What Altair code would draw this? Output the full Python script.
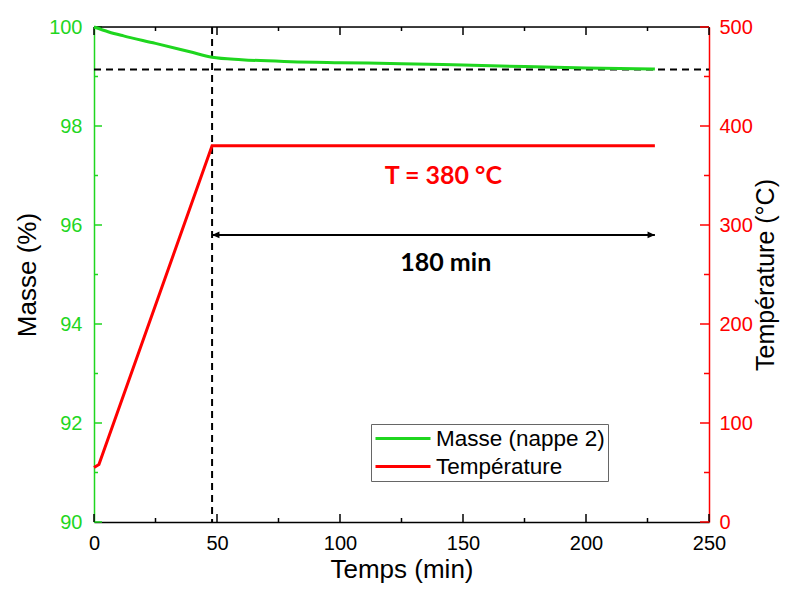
import altair as alt
import pandas as pd

# ---- data ----
time_mass = [0, 6, 12, 25, 39, 48, 60, 80, 100, 125, 150, 175, 200, 228]
mass = [100.0, 99.90, 99.82, 99.67, 99.50, 99.39, 99.34, 99.30, 99.28, 99.26, 99.23, 99.20, 99.17, 99.15]
time_temp = [0, 2, 48, 228]
temp = [55, 58, 380, 380]
series = ["Masse (nappe 2)", "Température"]

x_major = [0, 50, 100, 150, 200, 250]
x_minor = [25, 75, 125, 175, 225]
mass_major = [90, 92, 94, 96, 98, 100]
mass_minor = [91, 93, 95, 97, 99]
temp_major = [0, 100, 200, 300, 400, 500]
temp_minor = [50, 150, 250, 350, 450]

plateau_start = [48]
plateau_end = [228]
mass_final = [99.14]
arrow_temp = [290]
label_T = ["T = 380 °C"]
label_T_time = [142]
label_T_temp = [349]
label_d = ["180 min"]
label_d_time = [143]
label_d_temp = [262]

GREEN = "#1fd61f"
RED = "#ff0000"
W, H = 615, 495
FONT = "Liberation Sans"

xs = alt.Scale(domain=[0, 250], nice=False)
ms = alt.Scale(domain=[90, 100], nice=False)
ts = alt.Scale(domain=[0, 500], nice=False)
cs = alt.Scale(domain=series, range=[GREEN, RED])

legend = alt.Legend(
    title=None, orient="none", legendX=277, legendY=397, direction="vertical",
    symbolType="stroke", symbolSize=3025, symbolStrokeWidth=3, clipHeight=23,
    labelFontSize=22.5, labelFont=FONT, labelColor="black", labelOffset=4, labelLimit=400,
    strokeColor="#666666", fillColor="white", padding=3, rowPadding=5,
)

x_axis = alt.Axis(
    values=x_major, ticks=False, tickSize=0, labelFontSize=20, labelFont=FONT,
    labelColor="black", labelFlush=False, title="Temps (min)", titleFontSize=26,
    titleFont=FONT, titleFontWeight="normal", titleColor="black", domainColor="black",
    domainWidth=1.5, grid=False, labelPadding=11, titlePadding=3,
)

mass_axis = alt.Axis(
    values=mass_major, ticks=False, tickSize=0, labelFontSize=20, labelFont=FONT,
    labelColor=GREEN, domainColor=GREEN, domainWidth=1.5, grid=False,
    title="Masse (%)", titleFontSize=26, titleFont=FONT, titleFontWeight="normal",
    titleColor="black", labelPadding=12, titlePadding=8, orient="left")

temp_axis = alt.Axis(
    values=temp_major, ticks=False, tickSize=0, labelFontSize=20, labelFont=FONT,
    labelColor=RED, domainColor=RED, domainWidth=1.5, grid=False,
    title="Température (°C)", titleFontSize=25, titleFont=FONT,
    titleFontWeight="normal", titleColor="black", labelPadding=10,
    titlePadding=1, titleAngle=270, titleBaseline="top", orient="right")

df_mass = pd.DataFrame({"t": time_mass, "v": mass, "s": series[0]})
df_temp = pd.DataFrame({"t": time_temp, "v": temp, "s": series[1]})

mass_line = alt.Chart(df_mass).mark_line(strokeWidth=3, interpolate="monotone").encode(
    x=alt.X("t:Q", scale=xs, axis=x_axis),
    y=alt.Y("v:Q", scale=ms, axis=mass_axis),
    color=alt.Color("s:N", scale=cs, legend=legend),
)

hline = alt.Chart(pd.DataFrame({"m": mass_final})).mark_rule(
    color="black", strokeWidth=2, strokeDash=[7, 5]).encode(
    y=alt.Y("m:Q", scale=ms, axis=mass_axis), x=alt.value(0), x2=alt.value(W))

vline = alt.Chart(pd.DataFrame({"t": plateau_start})).mark_rule(
    color="black", strokeWidth=2, strokeDash=[7, 5]).encode(
    x=alt.X("t:Q", scale=xs, axis=x_axis), y=alt.value(0), y2=alt.value(H))

mass_tick_major = alt.Chart(pd.DataFrame({"m": mass_major})).mark_rule(
    color=GREEN, strokeWidth=1.5).encode(
    y=alt.Y("m:Q", scale=ms, axis=mass_axis), x=alt.value(0), x2=alt.value(8))
mass_tick_minor = alt.Chart(pd.DataFrame({"m": mass_minor})).mark_rule(
    color=GREEN, strokeWidth=1.5).encode(
    y=alt.Y("m:Q", scale=ms, axis=mass_axis), x=alt.value(0), x2=alt.value(4))

xt_major = pd.DataFrame({"t": x_major})
xt_minor = pd.DataFrame({"t": x_minor})
bot_major = alt.Chart(xt_major).mark_rule(color="black", strokeWidth=1.5).encode(
    x=alt.X("t:Q", scale=xs, axis=x_axis), y=alt.value(H), y2=alt.value(H - 8))
bot_minor = alt.Chart(xt_minor).mark_rule(color="black", strokeWidth=1.5).encode(
    x=alt.X("t:Q", scale=xs, axis=x_axis), y=alt.value(H), y2=alt.value(H - 4))
top_major = alt.Chart(xt_major).mark_rule(color="black", strokeWidth=1.5).encode(
    x=alt.X("t:Q", scale=xs, axis=x_axis), y=alt.value(0), y2=alt.value(8))
top_minor = alt.Chart(xt_minor).mark_rule(color="black", strokeWidth=1.5).encode(
    x=alt.X("t:Q", scale=xs, axis=x_axis), y=alt.value(0), y2=alt.value(4))
top_line = alt.Chart(pd.DataFrame({"a": [0]})).mark_rule(color="black", strokeWidth=1.5).encode(
    x=alt.value(0), x2=alt.value(W), y=alt.value(0))

mass_group = alt.layer(
    hline, vline, mass_tick_major, mass_tick_minor,
    bot_major, bot_minor, top_major, top_minor, top_line, mass_line,
)

temp_line = alt.Chart(df_temp).mark_line(strokeWidth=3).encode(
    x=alt.X("t:Q", scale=xs, axis=x_axis),
    y=alt.Y("v:Q", scale=ts, axis=temp_axis),
    color=alt.Color("s:N", scale=cs, legend=legend),
)

temp_tick_major = alt.Chart(pd.DataFrame({"T": temp_major})).mark_rule(
    color=RED, strokeWidth=1.5).encode(
    y=alt.Y("T:Q", scale=ts, axis=temp_axis), x=alt.value(W), x2=alt.value(W - 9))
temp_tick_minor = alt.Chart(pd.DataFrame({"T": temp_minor})).mark_rule(
    color=RED, strokeWidth=1.5).encode(
    y=alt.Y("T:Q", scale=ts, axis=temp_axis), x=alt.value(W), x2=alt.value(W - 5))

df_arrow = pd.DataFrame({"t": plateau_start, "t2": plateau_end, "T": arrow_temp})
arrow = alt.Chart(df_arrow).mark_rule(color="black", strokeWidth=2).encode(
    x=alt.X("t:Q", scale=xs, axis=x_axis), x2="t2:Q", y=alt.Y("T:Q", scale=ts, axis=temp_axis))
head_l = alt.Chart(df_arrow).mark_point(
    shape="M 0 0 L 1.2 -0.55 L 1.2 0.55 Z", filled=True, size=150, color="black", opacity=1).encode(
    x=alt.X("t:Q", scale=xs, axis=x_axis), y=alt.Y("T:Q", scale=ts, axis=temp_axis))
head_r = alt.Chart(df_arrow).mark_point(
    shape="M 0 0 L -1.2 -0.55 L -1.2 0.55 Z", filled=True, size=150, color="black", opacity=1).encode(
    x=alt.X("t2:Q", scale=xs, axis=x_axis), y=alt.Y("T:Q", scale=ts, axis=temp_axis))

txt_T = alt.Chart(pd.DataFrame({"t": label_T_time, "T": label_T_temp, "l": label_T})).mark_text(
    font="Lato", fontSize=25, fontWeight="bold", color=RED, baseline="middle", align="center").encode(
    x=alt.X("t:Q", scale=xs, axis=x_axis), y=alt.Y("T:Q", scale=ts, axis=temp_axis), text="l:N")
txt_d = alt.Chart(pd.DataFrame({"t": label_d_time, "T": label_d_temp, "l": label_d})).mark_text(
    font="Lato", fontSize=25, fontWeight="bold", color="black", baseline="middle", align="center").encode(
    x=alt.X("t:Q", scale=xs, axis=x_axis), y=alt.Y("T:Q", scale=ts, axis=temp_axis), text="l:N")

temp_group = alt.layer(
    temp_tick_major, temp_tick_minor, arrow, head_l, head_r, txt_T, txt_d, temp_line,
)

chart = alt.layer(mass_group, temp_group).resolve_scale(y="independent").properties(
    width=W, height=H,
    autosize=alt.AutoSizeParams(type="none"),
    padding={"left": 86, "top": 19, "right": 73, "bottom": 61},
).configure_view(stroke=None).configure(background="white")

chart.save("out.html", embed_options={"renderer": "svg", "actions": False})
